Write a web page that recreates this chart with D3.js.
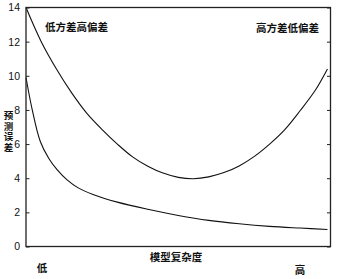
<!DOCTYPE html>
<html><head><meta charset="utf-8">
<script src="https://cdn.jsdelivr.net/npm/d3@7"></script>
<style>body{margin:0;background:#fff}svg{display:block}</style>
</head><body>
<script>
// Data (x: model complexity 0..100, y: prediction error)
const upperX = [0, 5, 10, 15, 20, 25, 30, 35, 40, 45, 50, 55, 60, 65, 70, 75, 80, 85, 90, 95, 99];
const upperY = [14, 12.0, 10.4, 9.0, 7.8, 6.85, 6.0, 5.25, 4.7, 4.3, 4.05, 3.97, 4.08, 4.33, 4.72, 5.28, 6.0, 6.85, 7.95, 9.15, 10.4];
const lowerX = [0, 2, 4.7, 7.5, 10.2, 13.5, 17, 22, 30, 40, 50, 60, 70, 80, 90, 99];
const lowerY = [9.9, 8.05, 6.15, 5.15, 4.5, 3.9, 3.45, 3.05, 2.6, 2.18, 1.82, 1.53, 1.33, 1.18, 1.08, 1.0];
const yTicks = [0, 2, 4, 6, 8, 10, 12, 14];
const yLabel = "预测误差";
const xLabel = "模型复杂度";
const lowLabel = "低", highLabel = "高";
const leftNote = "低方差高偏差", rightNote = "高方差低偏差";

const W = 337, H = 279;
const svg = d3.select("body").append("svg").attr("width", W).attr("height", H);
const x = d3.scaleLinear().domain([0, 100]).range([26, 330.5]);
const y = d3.scaleLinear().domain([0, 14]).range([246.5, 7.5]);
const font = "'Noto Sans CJK SC', 'Liberation Sans', sans-serif";

// curves
const line = d3.line().x(d => x(d[0])).y(d => y(d[1])).curve(d3.curveCatmullRom.alpha(0.5));
svg.append("path").datum(upperX.map((v, i) => [v, upperY[i]]))
  .attr("d", line).attr("fill", "none").attr("stroke", "#111").attr("stroke-width", 1.1);
svg.append("path").datum(lowerX.map((v, i) => [v, lowerY[i]]))
  .attr("d", line).attr("fill", "none").attr("stroke", "#111").attr("stroke-width", 1.1);

// left axis with inward ticks
const yAxisL = d3.axisLeft(y).tickValues(yTicks).tickSizeInner(-3.5).tickSizeOuter(0).tickPadding(6);
const gl = svg.append("g").attr("transform", `translate(${x(0)},0)`).call(yAxisL);
gl.select(".domain").remove();
gl.selectAll("text").attr("font-family", "'Liberation Sans', 'DejaVu Sans', sans-serif")
  .attr("font-size", 10.5).attr("fill", "#111");
gl.selectAll("line").attr("stroke", "#222");
// right axis inward ticks
const yAxisR = d3.axisRight(y).tickValues(yTicks).tickSizeInner(-3.5).tickSizeOuter(0).tickFormat("");
const gr = svg.append("g").attr("transform", `translate(${x(100)},0)`).call(yAxisR);
gr.select(".domain").remove();
gr.selectAll("line").attr("stroke", "#222");

// frame
svg.append("rect").attr("x", x(0)).attr("y", y(14)).attr("width", x(100) - x(0)).attr("height", y(0) - y(14))
  .attr("fill", "none").attr("stroke", "#222").attr("stroke-width", 1.3);

// annotations
function label(t, px, py, anchor) {
  return svg.append("text").attr("x", px).attr("y", py).attr("text-anchor", anchor || "start").text(t)
    .attr("font-family", font).attr("font-size", 10.5).attr("font-weight", "bold").attr("fill", "#111");
}
label(leftNote, 45, 30.5);
label(rightNote, 256, 31.5);
label(xLabel, 176, 261, "middle");
label(lowLabel, 42, 272, "middle");
label(highLabel, 300, 274, "middle");
svg.append("text").attr("x", 8.5).attr("y", 111).text(yLabel)
  .style("writing-mode", "vertical-rl").style("text-orientation", "upright")
  .attr("letter-spacing", 1)
  .attr("font-family", font).attr("font-size", 9.5).attr("font-weight", "bold").attr("fill", "#111");
</script>
</body></html>
